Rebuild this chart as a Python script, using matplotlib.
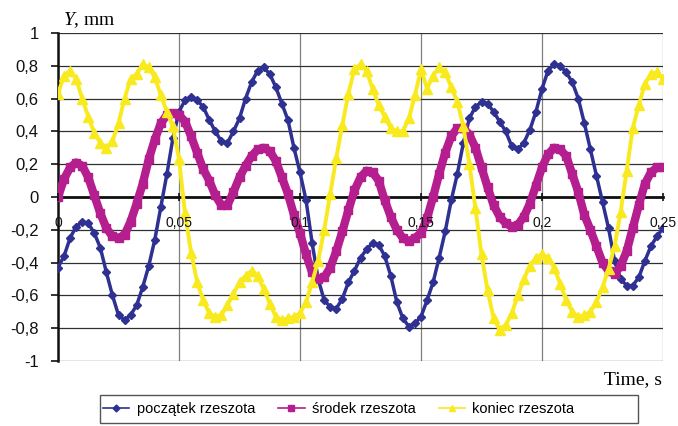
import numpy as np
import matplotlib
matplotlib.use("Agg")
import matplotlib.pyplot as plt
from matplotlib.lines import Line2D
from matplotlib.patches import Rectangle

plt.rcParams['font.family'] = ['Liberation Sans', 'DejaVu Sans']
plt.rcParams['mathtext.fontset'] = 'custom'
plt.rcParams['mathtext.it'] = 'Liberation Serif:italic'
plt.rcParams['mathtext.rm'] = 'Liberation Serif'

# czas, s (krok 0,0025 s)
czas = np.linspace(0, 0.25, 101)

poczatek = [-0.43, -0.36, -0.25, -0.18, -0.15, -0.16, -0.22, -0.31, -0.46, -0.60,
            -0.72, -0.75, -0.72, -0.66, -0.55, -0.42, -0.26, -0.06, 0.14, 0.36,
            0.52, 0.59, 0.61, 0.59, 0.55, 0.47, 0.40, 0.34, 0.33, 0.40,
            0.48, 0.60, 0.70, 0.77, 0.79, 0.75, 0.67, 0.57, 0.47, 0.30,
            0.15, -0.02, -0.28, -0.50, -0.63, -0.67, -0.68, -0.62, -0.52, -0.45,
            -0.37, -0.32, -0.28, -0.29, -0.36, -0.48, -0.64, -0.74, -0.79, -0.77,
            -0.73, -0.63, -0.52, -0.37, -0.21, -0.02, 0.14, 0.33, 0.48, 0.55,
            0.58, 0.57, 0.52, 0.46, 0.40, 0.31, 0.29, 0.33, 0.41, 0.52,
            0.66, 0.77, 0.81, 0.80, 0.76, 0.70, 0.60, 0.45, 0.29, 0.13,
            -0.03, -0.19, -0.39, -0.50, -0.54, -0.54, -0.49, -0.39, -0.30, -0.24,
            -0.19]

srodek = [0.00, 0.11, 0.18, 0.21, 0.19, 0.12, 0.01, -0.10, -0.19, -0.24,
          -0.25, -0.23, -0.15, -0.04, 0.08, 0.23, 0.35, 0.45, 0.50, 0.51,
          0.50, 0.46, 0.37, 0.27, 0.17, 0.10, 0.01, -0.05, -0.05, 0.03,
          0.12, 0.19, 0.25, 0.29, 0.30, 0.28, 0.22, 0.12, 0.02, -0.11,
          -0.22, -0.35, -0.46, -0.50, -0.49, -0.43, -0.33, -0.21, -0.08, 0.04,
          0.12, 0.16, 0.15, 0.10, -0.02, -0.12, -0.20, -0.25, -0.27, -0.25,
          -0.22, -0.13, 0.00, 0.14, 0.27, 0.37, 0.42, 0.42, 0.38, 0.30,
          0.18, 0.06, -0.05, -0.12, -0.16, -0.18, -0.17, -0.12, -0.04, 0.07,
          0.18, 0.26, 0.30, 0.29, 0.25, 0.14, 0.03, -0.11, -0.20, -0.30,
          -0.40, -0.45, -0.47, -0.42, -0.33, -0.19, -0.05, 0.08, 0.15, 0.18,
          0.18]

koniec = [0.63, 0.74, 0.77, 0.72, 0.60, 0.49, 0.39, 0.33, 0.30, 0.34,
          0.45, 0.60, 0.72, 0.75, 0.81, 0.79, 0.73, 0.62, 0.52, 0.43,
          0.23, -0.10, -0.34, -0.52, -0.63, -0.71, -0.73, -0.72, -0.66, -0.59,
          -0.52, -0.48, -0.45, -0.48, -0.56, -0.65, -0.73, -0.75, -0.74, -0.73,
          -0.71, -0.64, -0.52, -0.39, -0.20, 0.02, 0.24, 0.44, 0.63, 0.78,
          0.81, 0.77, 0.66, 0.56, 0.49, 0.42, 0.40, 0.40, 0.48, 0.62,
          0.78, 0.66, 0.74, 0.79, 0.76, 0.67, 0.58, 0.43, 0.20, -0.07,
          -0.35, -0.57, -0.74, -0.81, -0.78, -0.71, -0.60, -0.50, -0.42, -0.37,
          -0.35, -0.37, -0.43, -0.53, -0.63, -0.70, -0.73, -0.72, -0.70, -0.64,
          -0.55, -0.44, -0.30, -0.09, 0.16, 0.42, 0.56, 0.69, 0.75, 0.76,
          0.72]

nazwy = ['początek rzeszota', 'środek rzeszota', 'koniec rzeszota']
kolory = ['#2E3192', '#B41E8E', '#F8EA1E']

x_ticks = [0, 0.05, 0.1, 0.15, 0.2, 0.25]
x_labels = ["0", "0,05", "0,1", "0,15", "0,2", "0,25"]
y_ticks = [-1, -0.8, -0.6, -0.4, -0.2, 0, 0.2, 0.4, 0.6, 0.8, 1]
y_labels = ["-1", "-0,8", "-0,6", "-0,4", "-0,2", "0", "0,2", "0,4", "0,6", "0,8", "1"]

fig = plt.figure(figsize=(6.78, 4.26), dpi=100)
ax = fig.add_axes([58/678, 65/426, 605/678, 328/426])

ax.plot(czas, poczatek, color=kolory[0], marker='D', markersize=4.2, linewidth=2.5, zorder=3)
ax.plot(czas, srodek, color=kolory[1], marker='s', markersize=6, linewidth=6, zorder=4)
ax.plot(czas, koniec, color=kolory[2], marker='^', markersize=6.5, linewidth=2.8, zorder=5)

ax.set_xlim(0, 0.25)
ax.set_ylim(-1, 1)
ax.set_xticks(x_ticks)
ax.set_xticklabels(x_labels, fontweight='bold', fontsize=11.5)
ax.set_yticks(y_ticks)
ax.set_yticklabels(y_labels, fontsize=12)

# siatka pod krzywymi, opisy osi x nad krzywymi
for xv in x_ticks:
    ax.axvline(xv, color='#808080', linewidth=0.9, zorder=1)
for yv in y_ticks:
    ax.axhline(yv, color='#303030', linewidth=0.9, zorder=1)
ax.xaxis.set_zorder(6)

ax.spines['top'].set_visible(False)
ax.spines['right'].set_visible(False)
ax.spines['bottom'].set_position(('data', 0))
ax.spines['bottom'].set_linewidth(2)
ax.spines['bottom'].set_color('#111111')
ax.spines['left'].set_linewidth(1.8)
ax.spines['left'].set_color('#111111')
ax.tick_params(axis='x', direction='inout', length=6, width=1.2, pad=11, colors='#111111')
ax.tick_params(axis='y', direction='out', length=5, width=1.2, pad=9, colors='#111111')

fig.text(63/678, 1 - 20/426, r'$\mathit{Y}$, mm', fontsize=14, family='Liberation Serif',
         ha='left', va='center')
fig.text(662/678, 1 - 380/426, 'Time, s', fontsize=14, family='Liberation Serif',
         ha='right', va='center')

# legenda
uchwyty = [Line2D([], [], color=kolory[0], marker='D', markersize=3.5, linewidth=1.2),
           Line2D([], [], color=kolory[1], marker='s', markersize=4.5, linewidth=1.2),
           Line2D([], [], color=kolory[2], marker='^', markersize=4.5, linewidth=1.2)]
fig.legend(uchwyty, nazwy, loc='center left', bbox_to_anchor=(103/678, 1 - 409/426),
           ncol=3, fontsize=10.5, frameon=False, borderaxespad=0, borderpad=0,
           handlelength=1.8, handletextpad=0.5, columnspacing=1.6)
fig.patches.append(Rectangle((100/678, 3/426), 538/678, 28/426, transform=fig.transFigure,
                             fill=False, edgecolor='#555555', linewidth=1))

plt.savefig("out.png", dpi=100)
